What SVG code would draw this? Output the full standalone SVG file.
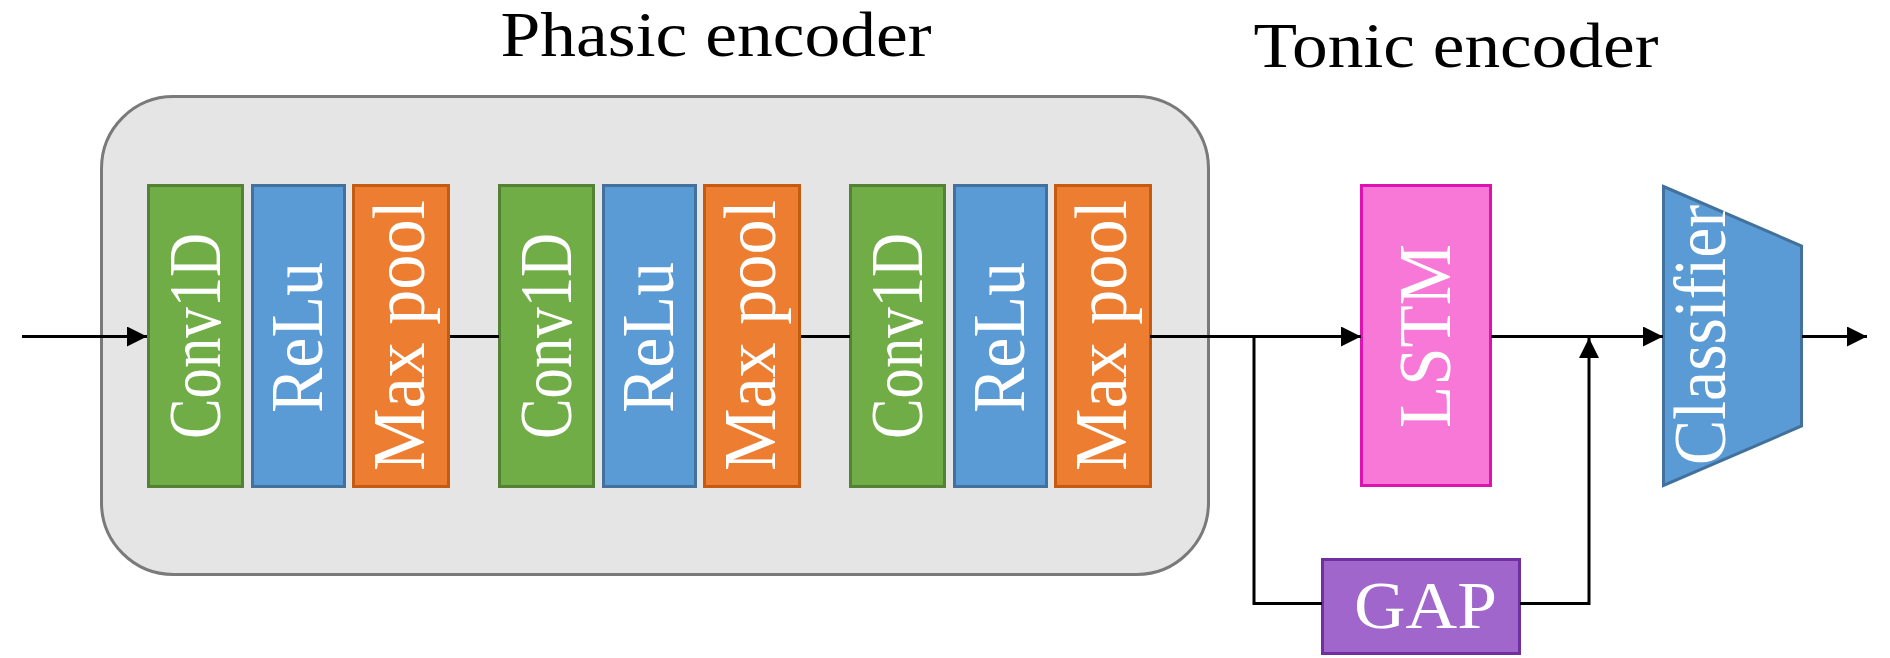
<svg xmlns="http://www.w3.org/2000/svg" width="1890" height="658" viewBox="0 0 1890 658">
<style>
.lbl{font-family:"Liberation Serif","DejaVu Serif",serif;fill:#ffffff;text-anchor:middle;}
.title{font-family:"Liberation Serif","DejaVu Serif",serif;fill:#000000;text-anchor:middle;font-size:64px;}
.conv{fill:#70ad47;stroke:#548235;stroke-width:3;}
.relu{fill:#5b9bd5;stroke:#41719c;stroke-width:3;}
.pool{fill:#ed7d31;stroke:#c55a11;stroke-width:3;}
.lstm{fill:#f878d8;stroke:#dd12b0;stroke-width:3;}
.gap{fill:#a066cc;stroke:#7030a0;stroke-width:3;}
.cls{fill:#5b9bd5;stroke:#41719c;stroke-width:3;}
.wire{fill:none;stroke:#000000;stroke-width:3;}
</style>
<defs>
<marker id="ah" markerUnits="userSpaceOnUse" markerWidth="20" markerHeight="20" refX="20" refY="10" orient="auto">
<path d="M0,0 L20,10 L0,20 Z" fill="#000000"/>
</marker>
</defs>
<rect fill="#ffffff" x="0" y="0" width="1890" height="658"/>
<text class="title" x="716" y="56" textLength="431" lengthAdjust="spacingAndGlyphs">Phasic encoder</text>
<text class="title" x="1456" y="67" textLength="405" lengthAdjust="spacingAndGlyphs">Tonic encoder</text>
<g id="phasic-encoder">
<rect x="101.5" y="96.5" width="1107" height="478" rx="72" ry="72" fill="#e5e5e5" stroke="#7a7a7a" stroke-width="3"/>
</g>
<g id="conv1">
<rect class="conv" x="148.5" y="185.5" width="94" height="301"/>
<text class="lbl" font-size="73" transform="translate(219.5,336) rotate(-90)" textLength="206" lengthAdjust="spacingAndGlyphs">Conv1D</text>
</g>
<g id="relu1">
<rect class="relu" x="252.5" y="185.5" width="92" height="301"/>
<text class="lbl" font-size="73" transform="translate(322,337.5) rotate(-90)" textLength="151" lengthAdjust="spacingAndGlyphs">ReLu</text>
</g>
<g id="pool1">
<rect class="pool" x="353.5" y="185.5" width="95" height="301"/>
<text class="lbl" font-size="73" transform="translate(424,335.5) rotate(-90)" textLength="271" lengthAdjust="spacingAndGlyphs">Max pool</text>
</g>
<g id="conv2">
<rect class="conv" x="499.5" y="185.5" width="94" height="301"/>
<text class="lbl" font-size="73" transform="translate(570.5,336) rotate(-90)" textLength="206" lengthAdjust="spacingAndGlyphs">Conv1D</text>
</g>
<g id="relu2">
<rect class="relu" x="603.5" y="185.5" width="92" height="301"/>
<text class="lbl" font-size="73" transform="translate(673,337.5) rotate(-90)" textLength="151" lengthAdjust="spacingAndGlyphs">ReLu</text>
</g>
<g id="pool2">
<rect class="pool" x="704.5" y="185.5" width="95" height="301"/>
<text class="lbl" font-size="73" transform="translate(775,335.5) rotate(-90)" textLength="271" lengthAdjust="spacingAndGlyphs">Max pool</text>
</g>
<g id="conv3">
<rect class="conv" x="850.5" y="185.5" width="94" height="301"/>
<text class="lbl" font-size="73" transform="translate(921.5,336) rotate(-90)" textLength="206" lengthAdjust="spacingAndGlyphs">Conv1D</text>
</g>
<g id="relu3">
<rect class="relu" x="954.5" y="185.5" width="92" height="301"/>
<text class="lbl" font-size="73" transform="translate(1024,337.5) rotate(-90)" textLength="151" lengthAdjust="spacingAndGlyphs">ReLu</text>
</g>
<g id="pool3">
<rect class="pool" x="1055.5" y="185.5" width="95" height="301"/>
<text class="lbl" font-size="73" transform="translate(1126,335.5) rotate(-90)" textLength="271" lengthAdjust="spacingAndGlyphs">Max pool</text>
</g>
<g id="lstm">
<rect class="lstm" x="1361.5" y="185.5" width="129" height="300"/>
<text class="lbl" font-size="73" transform="translate(1450,336) rotate(-90)" textLength="184" lengthAdjust="spacingAndGlyphs">LSTM</text>
</g>
<g id="gap">
<rect class="gap" x="1322.5" y="559.5" width="197" height="94"/>
<text class="lbl" font-size="68" x="1425.5" y="628" textLength="143" lengthAdjust="spacingAndGlyphs">GAP</text>
</g>
<g id="classifier">
<polygon class="cls" points="1663.5,186.5 1801.5,246 1801.5,426 1663.5,485.5"/>
<text class="lbl" font-size="74" transform="translate(1725,335) rotate(-90)" textLength="260" lengthAdjust="spacingAndGlyphs">Classifier</text>
</g>
<g id="connectors">
<path class="wire" d="M22,336.5 H147" marker-end="url(#ah)"/>
<path class="wire" d="M450,336.5 H499"/>
<path class="wire" d="M801,336.5 H850"/>
<path class="wire" d="M1150,336.5 H1361" marker-end="url(#ah)"/>
<path class="wire" d="M1254,336.5 V603.5 H1322"/>
<path class="wire" d="M1520,603.5 H1589 V338" marker-end="url(#ah)"/>
<path class="wire" d="M1491,336.5 H1663" marker-end="url(#ah)"/>
<path class="wire" d="M1802,336.5 H1867" marker-end="url(#ah)"/>
</g>
</svg>
